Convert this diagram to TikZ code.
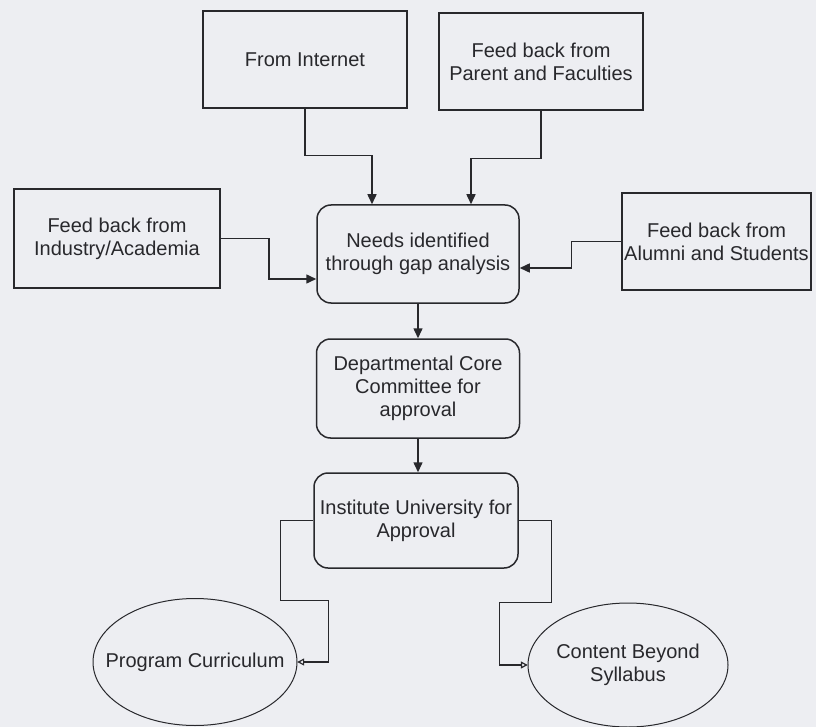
\documentclass[tikz,border=0pt]{standalone}
\usepackage{fontspec}
\setmainfont{Liberation Sans}
\usetikzlibrary{arrows.meta}

\definecolor{paper}{RGB}{237,238,242}
\definecolor{ink}{RGB}{40,40,44}

\tikzset{
    box/.style={draw=ink, line width=1.5pt, minimum width=204pt, minimum height=97pt,
        inner sep=1pt, align=center, text=ink, font=\fontsize{20}{23}\selectfont},
    rbox/.style={box, rounded corners=14pt},
    oval/.style={inner sep=0pt, align=center, text=ink, font=\fontsize{20}{23}\selectfont},
    link/.style={draw=ink, line width=1.5pt, -{Triangle[length=10pt,width=9pt]}},
    thinlink/.style={draw=ink, line width=1.2pt, -{Triangle[open,length=7pt,width=7pt]}}
}

\begin{document}
\begin{tikzpicture}[x=1pt,y=-1pt]
        \fill[paper] (0,0) rectangle (816,727);
        \useasboundingbox (0,0) rectangle (816,727);

        \node[box] (inet) at (305,59.5) {From Internet};
        \node[box] (parent) at (541,61.5) {Feed back from\\Parent and Faculties};
        \node[box, minimum width=206pt, minimum height=99pt] (industry) at (117,238.5)
            {Feed back from\\Industry/Academia};
        \node[box, minimum width=189pt, inner xsep=0pt] (alumni) at (716.5,241.5)
            {Feed back from\\Alumni and Students};
        \node[rbox, minimum width=202pt, minimum height=98pt] (needs) at (418,254)
            {Needs identified\\through gap analysis};
        \node[rbox, minimum width=203pt, minimum height=99pt] (dept) at (418,388.5)
            {Departmental Core\\Committee for\\approval};
        \node[rbox, minimum height=95pt] (inst) at (416,520.5)
            {Institute University for\\Approval};
        \node[oval, minimum width=204pt, minimum height=127pt] (prog) at (195,662)
            {Program Curriculum};
        \node[oval, minimum width=200pt, minimum height=124pt] (content) at (628,665)
            {Content Beyond\\Syllabus};
        \draw[ink, line width=1pt] (prog.center) ellipse (102 and 63.5);
        \draw[ink, line width=1pt] (content.center) ellipse (100 and 62);

        % inputs to the gap analysis
        \draw[link] (inet.south) -- ++(0,47) -| ([xshift=-46pt]needs.north);
        \draw[link] (parent.south) -- ++(0,48) -| ([xshift=53pt]needs.north);
        \draw[link] (industry.east) -- ++(48,0) |- ([yshift=-25pt]needs.west);
        \draw[link] (alumni.west) -- ++(-50,0) |- ([yshift=-14pt]needs.east);

        \draw[link] (needs.south) -- (dept.north);
        \draw[link] (dept.south) -- (dept.south |- inst.north);

        % outcomes
        \draw[thinlink] (inst.west) -- ++(-33,0) -- ++(0,80) -- ++(48,0) |- (prog.east);
        \draw[thinlink] (inst.east) -- ++(33,0) -- ++(0,82) -- ++(-52,0) |- (content.west);
    \end{tikzpicture}
\end{document}
